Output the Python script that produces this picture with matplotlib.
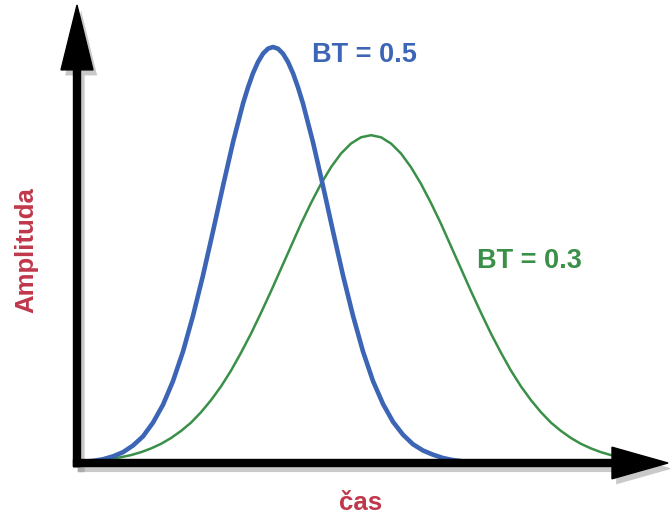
import matplotlib
matplotlib.use("Agg")
import matplotlib.pyplot as plt
import matplotlib.patheffects as pe

# Gaussian pulse shapes (time in arbitrary units, amplitude normalised)
t_bt05 = [0.06, 0.16, 0.26, 0.36, 0.46, 0.56, 0.66, 0.76, 0.86, 0.96,
          1.06, 1.16, 1.26, 1.36, 1.46, 1.56, 1.66, 1.71, 1.76, 1.81, 1.86, 1.91,
          1.96, 2.01, 2.06, 2.11, 2.16, 2.21, 2.26, 2.36, 2.46, 2.56, 2.66, 2.76,
          2.86, 2.96, 3.06, 3.16, 3.26, 3.36, 3.46, 3.56, 3.66, 3.76, 3.86]
a_bt05 = [0.003, 0.005, 0.009, 0.016, 0.026, 0.042, 0.064, 0.097, 0.140, 0.197,
          0.268, 0.354, 0.451, 0.557, 0.666, 0.771, 0.864, 0.903, 0.937, 0.964, 0.984, 0.996,
          1.000, 0.996, 0.984, 0.964, 0.937, 0.903, 0.864, 0.771, 0.666, 0.557, 0.451, 0.354,
          0.268, 0.197, 0.142, 0.099, 0.068, 0.045, 0.030, 0.020, 0.012, 0.007, 0.004]

t_bt03 = [0.34, 0.44, 0.54, 0.64, 0.74, 0.84, 0.94, 1.04, 1.14, 1.24,
          1.34, 1.44, 1.54, 1.64, 1.74, 1.84, 1.94, 2.04, 2.14, 2.24,
          2.34, 2.44, 2.54, 2.64, 2.74, 2.84, 2.94, 3.04, 3.14, 3.24,
          3.34, 3.44, 3.54, 3.64, 3.74, 3.84, 3.94, 4.04, 4.14, 4.24,
          4.34, 4.44, 4.54, 4.64, 4.74, 4.84, 4.94, 5.04, 5.14, 5.24, 5.34]
a_bt03 = [0.010, 0.014, 0.019, 0.026, 0.035, 0.046, 0.060, 0.077, 0.097, 0.122,
          0.151, 0.184, 0.222, 0.265, 0.311, 0.361, 0.413, 0.467, 0.521, 0.575,
          0.625, 0.671, 0.711, 0.744, 0.768, 0.783, 0.788, 0.783, 0.768, 0.744,
          0.711, 0.671, 0.625, 0.575, 0.521, 0.467, 0.413, 0.361, 0.311, 0.265,
          0.222, 0.184, 0.151, 0.122, 0.097, 0.077, 0.060, 0.046, 0.035, 0.026, 0.019]

labels = ["BT = 0.5", "BT = 0.3"]
x_label = "čas"
y_label = "Amplituda"

BLUE = "#3c66b5"
GREEN = "#3a9048"
RED = "#c0374a"

fig = plt.figure(figsize=(6.70, 5.16), dpi=100)
ax = fig.add_axes([0, 0, 1, 1])
ax.set_xlim(-0.77, 5.93)
ax.set_ylim(-0.1274, 1.113)
ax.axis("off")

ax.plot(t_bt03, a_bt03, color=GREEN, lw=1.8, solid_capstyle="round", zorder=2)
ax.plot(t_bt05, a_bt05, color=BLUE, lw=3.3, solid_capstyle="round", zorder=3)

# axes drawn as thick black arrows with a soft shadow
shadow = [pe.SimplePatchShadow(offset=(3, -4), shadow_rgbFace="#888888", alpha=0.45), pe.Normal()]
ya = ax.arrow(0.0, -0.009, 0, 1.11 - 0.156, width=0.07, head_width=0.32,
              head_length=0.156, length_includes_head=False, color="black", zorder=5)
xa = ax.arrow(-0.035, 0.0, 5.945 - 0.56, 0, width=0.0168, head_width=0.076,
              head_length=0.56, length_includes_head=False, color="black", zorder=5)
ya.set_path_effects(shadow)
xa.set_path_effects(shadow)

font = ["Liberation Sans", "DejaVu Sans"]
ax.text(2.35, 0.964, labels[0], color=BLUE, fontsize=19.5, fontweight="bold",
        family=font, ha="left", va="baseline")
ax.text(4.00, 0.469, labels[1], color=GREEN, fontsize=19.5, fontweight="bold",
        family=font, ha="left", va="baseline")
ax.text(2.84, -0.113, x_label, color=RED, fontsize=18.5, fontweight="bold",
        family=font, ha="center", va="baseline")
ax.text(-0.51, 0.512, y_label, color=RED, fontsize=18.5, fontweight="bold",
        family=font, ha="center", va="center", rotation=90)

fig.savefig("out.png", dpi=100)
